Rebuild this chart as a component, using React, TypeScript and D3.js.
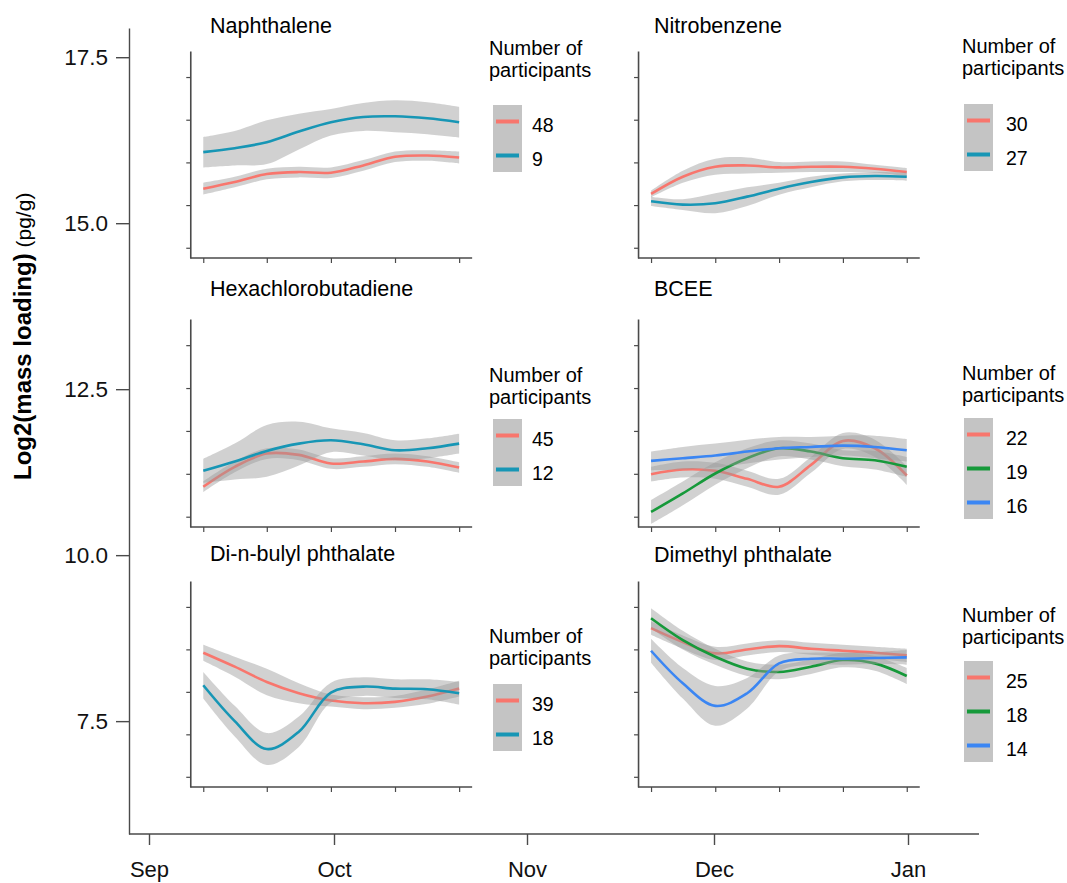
import { useEffect, useRef } from "react";
import * as d3 from "d3";

// outer time axis: days since Sep 1
const months = ["Sep", "Oct", "Nov", "Dec", "Jan"];
const monthDays = [0, 30, 61, 91, 122];
const yTicks = [7.5, 10, 12.5, 15, 17.5];

// sampling days of the smoothed curves
const leftDays = [8.8, 13.9, 19.1, 24.3, 29.5, 34.7, 39.8, 45.0, 50.1];
const rightDays = [80.9, 86.0, 91.2, 96.3, 101.4, 106.5, 111.6, 116.7, 121.8];
const leftTickDays = [8.8, 19.1, 29.5, 39.8, 50.1];
const rightTickDays = [80.9, 91.2, 101.4, 111.6, 121.8];
const innerTicks = [0, 1, 2, 3, 4];

const compoundNames = [
    "Naphthalene",
    "Nitrobenzene",
    "Hexachlorobutadiene",
    "BCEE",
    "Di-n-bulyl phthalate",
    "Dimethyl phthalate",
];

// Naphthalene
const naphParticipants = [48, 9];
const naph48 = [15.52, 15.62, 15.74, 15.77, 15.76, 15.87, 16.0, 16.02, 15.99];
const naph48Se = [0.09, 0.08, 0.08, 0.08, 0.08, 0.08, 0.08, 0.08, 0.09];
const naph9 = [16.07, 16.13, 16.22, 16.38, 16.52, 16.6, 16.61, 16.58, 16.52];
const naph9Se = [0.23, 0.26, 0.33, 0.27, 0.2, 0.21, 0.24, 0.24, 0.23];

// Nitrobenzene
const nitroParticipants = [30, 27];
const nitro30 = [15.44, 15.7, 15.85, 15.87, 15.84, 15.85, 15.85, 15.82, 15.77];
const nitro30Se = [0.05, 0.09, 0.12, 0.12, 0.08, 0.08, 0.08, 0.06, 0.06];
const nitro27 = [15.33, 15.28, 15.3, 15.4, 15.52, 15.62, 15.69, 15.71, 15.7];
const nitro27Se = [0.07, 0.08, 0.15, 0.14, 0.09, 0.08, 0.06, 0.06, 0.06];

// Hexachlorobutadiene
const hexaParticipants = [45, 12];
const hexa45 = [11.03, 11.33, 11.53, 11.51, 11.38, 11.41, 11.45, 11.41, 11.32];
const hexa45Se = [0.08, 0.08, 0.08, 0.08, 0.08, 0.08, 0.08, 0.08, 0.08];
const hexa12 = [11.27, 11.41, 11.57, 11.68, 11.73, 11.67, 11.58, 11.61, 11.68];
const hexa12Se = [0.18, 0.27, 0.39, 0.33, 0.18, 0.17, 0.15, 0.15, 0.15];

// BCEE
const bceeParticipants = [22, 19, 16];
const bcee22 = [11.22, 11.29, 11.27, 11.15, 11.03, 11.36, 11.72, 11.61, 11.2];
const bcee22Se = [0.11, 0.12, 0.12, 0.12, 0.12, 0.12, 0.12, 0.13, 0.14];
const bcee19 = [10.65, 10.93, 11.23, 11.46, 11.61, 11.56, 11.46, 11.43, 11.33];
const bcee19Se = [0.18, 0.18, 0.17, 0.15, 0.12, 0.12, 0.12, 0.14, 0.15];
const bcee16 = [11.42, 11.46, 11.5, 11.56, 11.61, 11.63, 11.65, 11.63, 11.58];
const bcee16Se = [0.14, 0.17, 0.18, 0.18, 0.17, 0.15, 0.15, 0.17, 0.17];

// Di-n-bulyl phthalate
const dibpParticipants = [39, 18];
const dibp39 = [8.53, 8.32, 8.09, 7.92, 7.81, 7.77, 7.79, 7.87, 7.99];
const dibp39Se = [0.12, 0.15, 0.2, 0.15, 0.09, 0.09, 0.09, 0.11, 0.12];
const dibp18 = [8.04, 7.5, 7.08, 7.34, 7.93, 8.02, 7.99, 7.98, 7.92];
const dibp18Se = [0.2, 0.23, 0.24, 0.23, 0.15, 0.14, 0.14, 0.15, 0.17];

// Dimethyl phthalate
const dmpParticipants = [25, 18, 14];
const dmp25 = [8.9, 8.69, 8.52, 8.58, 8.63, 8.59, 8.56, 8.53, 8.49];
const dmp25Se = [0.1, 0.1, 0.1, 0.09, 0.09, 0.09, 0.09, 0.09, 0.1];
const dmp18 = [9.05, 8.72, 8.47, 8.29, 8.24, 8.32, 8.42, 8.37, 8.18];
const dmp18Se = [0.15, 0.14, 0.12, 0.11, 0.11, 0.11, 0.11, 0.11, 0.12];
const dmp14 = [8.56, 8.07, 7.73, 7.92, 8.37, 8.44, 8.44, 8.45, 8.46];
const dmp14Se = [0.18, 0.23, 0.3, 0.23, 0.12, 0.09, 0.09, 0.09, 0.11];

const panels = [
    { title: compoundNames[0], n: naphParticipants, fits: [naph48, naph9], ses: [naph48Se, naph9Se] },
    { title: compoundNames[1], n: nitroParticipants, fits: [nitro30, nitro27], ses: [nitro30Se, nitro27Se] },
    { title: compoundNames[2], n: hexaParticipants, fits: [hexa45, hexa12], ses: [hexa45Se, hexa12Se] },
    { title: compoundNames[3], n: bceeParticipants, fits: [bcee22, bcee19, bcee16], ses: [bcee22Se, bcee19Se, bcee16Se] },
    { title: compoundNames[4], n: dibpParticipants, fits: [dibp39, dibp18], ses: [dibp39Se, dibp18Se] },
    { title: compoundNames[5], n: dmpParticipants, fits: [dmp25, dmp18, dmp14], ses: [dmp25Se, dmp18Se, dmp14Se] },
];

// layout of the small panels
const rowTops = [51, 319, 581];
const rowBottoms = [258, 527, 787];
const panelLayout = [
    { row: 0, col: 0, titleY: 33, legendY: 55, keyTop: 105 },
    { row: 0, col: 1, titleY: 33, legendY: 53, keyTop: 104 },
    { row: 1, col: 0, titleY: 296, legendY: 382, keyTop: 419 },
    { row: 1, col: 1, titleY: 296, legendY: 380, keyTop: 418 },
    { row: 2, col: 0, titleY: 561, legendY: 643, keyTop: 684 },
    { row: 2, col: 1, titleY: 562, legendY: 622, keyTop: 661 },
];
const colTitleX = [210, 654];
const colLegendX = [489, 962];
const colKeyX = [493, 964];
const colLabelX = [532, 1006];

const colors2 = ["#F8766D", "#1796B5"];
const colors3 = ["#F8766D", "#16993A", "#3B86F3"];

const App = () => {
    const chartRef = useRef<SVGSVGElement | null>(null);

    useEffect(() => {
        const svg = d3.select(chartRef.current);
        svg.selectAll("*").remove();
        const font = "'Liberation Sans', Arial, Helvetica, sans-serif";
        const axisColor = "#4a4a4a";

        svg.append("rect").attr("width", 1067).attr("height", 883).attr("fill", "#fff");

        const x = d3.scaleLinear().domain(monthDays).range([149, 334, 527, 714, 908]);
        const y = d3.scaleLinear().domain([5.8, 17.94]).range([834, 28]);

        // outer y axis
        const gy = svg.append("g")
            .attr("transform", "translate(129,0)")
            .call(d3.axisLeft(y).tickValues(yTicks).tickSize(13).tickSizeOuter(0).tickPadding(8).tickFormat(d3.format(".1f")));
        gy.select(".domain").attr("stroke", axisColor).attr("stroke-width", 1.4);
        gy.selectAll(".tick line").attr("stroke", axisColor).attr("stroke-width", 1.4);
        gy.selectAll(".tick text")
            .attr("font-size", 22.5)
            .attr("font-family", font)
            .attr("fill", "#111");

        // outer x axis
        const gx = svg.append("g")
            .attr("transform", "translate(0,834)")
            .call(d3.axisBottom(x).tickValues(monthDays).tickSize(11).tickSizeOuter(0).tickFormat((d, i) => months[i]));
        gx.select(".domain").remove();
        gx.append("line").attr("x1", 129).attr("x2", 979)
            .attr("stroke", axisColor).attr("stroke-width", 1.4);
        gx.selectAll(".tick line").attr("stroke", axisColor).attr("stroke-width", 1.4);
        gx.selectAll(".tick text")
            .attr("y", 43)
            .attr("dy", null)
            .attr("font-size", 22)
            .attr("font-family", font)
            .attr("fill", "#111");

        // y label
        const yl = svg.append("text")
            .attr("transform", "translate(31,480) rotate(-90)")
            .attr("font-family", font)
            .attr("fill", "#000");
        yl.append("tspan").attr("font-weight", "bold").attr("font-size", 24).text("Log2(mass loading)");
        yl.append("tspan").attr("font-size", 21).text(" (pg/g)");

        panels.forEach((p, i) => {
            const L = panelLayout[i];
            const tickDays = L.col === 0 ? leftTickDays : rightTickDays;
            const days = L.col === 0 ? leftDays : rightDays;
            const top = rowTops[L.row];
            const bottom = rowBottoms[L.row];
            const left = x(tickDays[0]) - 13;
            const right = x(tickDays[tickDays.length - 1]) + 13;
            const yi = d3.scaleLinear().domain([-0.24, 4.61]).range([bottom, top]);
            const g = svg.append("g");

            const ay = g.append("g")
                .attr("transform", `translate(${left},0)`)
                .call(d3.axisLeft(yi).tickValues(innerTicks).tickSize(4).tickSizeOuter(0).tickFormat(() => ""));
            ay.select(".domain").attr("stroke", axisColor).attr("stroke-width", 1.6);
            ay.selectAll(".tick line").attr("stroke", axisColor).attr("stroke-width", 1.2);

            const ax = g.append("g")
                .attr("transform", `translate(0,${bottom})`)
                .call(d3.axisBottom(x).tickValues(tickDays).tickSize(5).tickSizeOuter(0).tickFormat(() => ""));
            ax.select(".domain").remove();
            ax.append("line").attr("x1", left).attr("x2", right)
                .attr("stroke", axisColor).attr("stroke-width", 1.6);
            ax.selectAll(".tick line").attr("stroke", axisColor).attr("stroke-width", 1.2);

            const colors = p.fits.length === 3 ? colors3 : colors2;
            p.fits.forEach((fit, k) => {
                const pts = fit.map((v, j) => ({ d: days[j], v, se: p.ses[k][j] }));
                const band = d3.area<any>()
                    .x(d => x(d.d))
                    .y0(d => y(d.v - d.se))
                    .y1(d => y(d.v + d.se))
                    .curve(d3.curveCatmullRom.alpha(0.5));
                g.append("path")
                    .attr("d", band(pts))
                    .attr("fill", "#9a9a9a")
                    .attr("fill-opacity", 0.45);
                const line = d3.line<any>()
                    .x(d => x(d.d))
                    .y(d => y(d.v))
                    .curve(d3.curveCatmullRom.alpha(0.5));
                g.append("path")
                    .attr("d", line(pts))
                    .attr("fill", "none")
                    .attr("stroke", colors[k])
                    .attr("stroke-width", 2.6);
            });

            g.append("text")
                .attr("x", colTitleX[L.col])
                .attr("y", L.titleY)
                .attr("font-family", font)
                .attr("font-size", 21.5)
                .attr("fill", "#000")
                .text(p.title);

            // legend
            const lg = g.append("g").attr("font-family", font).attr("fill", "#000");
            lg.append("text").attr("x", colLegendX[L.col]).attr("y", L.legendY)
                .attr("font-size", 20).text("Number of");
            lg.append("text").attr("x", colLegendX[L.col]).attr("y", L.legendY + 22)
                .attr("font-size", 20).text("participants");
            const keyH = 34;
            lg.append("rect")
                .attr("x", colKeyX[L.col])
                .attr("y", L.keyTop)
                .attr("width", 29)
                .attr("height", p.n.length * keyH - 1)
                .attr("fill", "#c4c4c4");
            p.n.forEach((n, k) => {
                const ly = L.keyTop + 16.5 + k * keyH;
                lg.append("line")
                    .attr("x1", colKeyX[L.col] + 3)
                    .attr("x2", colKeyX[L.col] + 26)
                    .attr("y1", ly).attr("y2", ly)
                    .attr("stroke", colors[k])
                    .attr("stroke-width", 4);
                lg.append("text")
                    .attr("x", colLabelX[L.col])
                    .attr("y", ly + 3)
                    .attr("dominant-baseline", "central")
                    .attr("font-size", 19.5)
                    .text(n);
            });
        });

        return () => {
            d3.select(chartRef.current).selectAll("*").remove();
        };
    }, []);

    return (
        <svg
            ref={chartRef}
            width={1067}
            height={883}
            style={{ position: "absolute", left: 0, top: 0, display: "block" }}
        ></svg>
    );
};

export default App;
